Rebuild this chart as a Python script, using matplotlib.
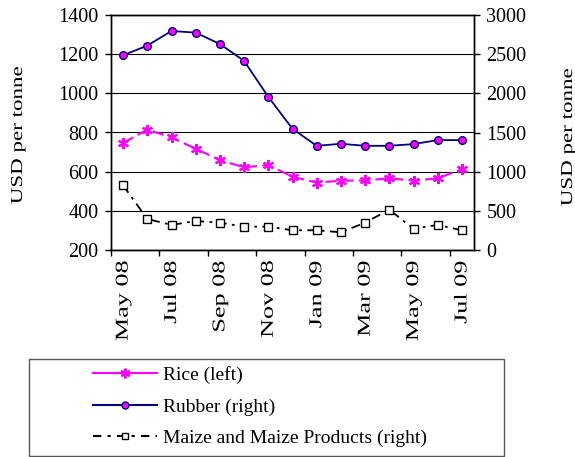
import matplotlib
matplotlib.use("Agg")
import matplotlib.pyplot as plt
from matplotlib.lines import Line2D
from matplotlib.patches import Rectangle
from matplotlib.patheffects import AbstractPathEffect
from matplotlib.transforms import Affine2D

months = ["May 08", "Jun 08", "Jul 08", "Aug 08", "Sep 08", "Oct 08", "Nov 08", "Dec 08",
          "Jan 09", "Feb 09", "Mar 09", "Apr 09", "May 09", "Jun 09", "Jul 09"]
rice = [747, 815, 775, 717, 659, 622, 634, 574, 544, 554, 555, 566, 554, 566, 613]
rubber = [2486, 2609, 2796, 2775, 2630, 2414, 1955, 1547, 1330, 1356, 1330, 1330, 1352, 1403, 1403]
maize = [825, 396, 320, 370, 349, 298, 298, 252, 252, 226, 349, 514, 272, 320, 252]


class Stretch(AbstractPathEffect):
    """Stretch text along its own direction (the reference's rotated text is elongated)."""

    def __init__(self, s, anchor="center"):
        super().__init__()
        self.s = s
        self.anchor = anchor

    def draw_path(self, renderer, gc, tpath, affine, rgbFace=None):
        ext = tpath.get_extents()
        if self.anchor == "end":
            cx = ext.x1
        elif self.anchor == "start":
            cx = ext.x0
        else:
            cx = 0.5 * (ext.x0 + ext.x1)
        t = Affine2D().translate(-cx, 0).scale(self.s, 1).translate(cx, 0) + affine
        renderer.draw_path(gc, tpath, t, rgbFace)


plt.rcParams['font.family'] = ['Liberation Serif', 'DejaVu Serif']
FS_TICK = 14.5
FS_LEG = 14

fig = plt.figure(figsize=(5.75, 4.57), dpi=100)
W, H = 575, 457
ax = fig.add_axes([111 / W, 1 - 250 / H, (474 - 111) / W, (250 - 15) / H])
ax2 = ax.twinx()

x = list(range(len(months)))

ax.set_xlim(-0.5, len(months) - 0.5)
ax.set_ylim(200, 1400)
ax.set_yticks(range(200, 1401, 200))
ax2.set_ylim(0, 3000)
ax2.set_yticks(range(0, 3001, 500))

ax.grid(axis='y', color='black', linewidth=0.8)
ax.set_axisbelow(True)

ax.plot(x, rice, color='#FF00FF', linewidth=1.5, dashes=(5.5, 2.5),
        marker=(6, 2, 0), markersize=8, markeredgewidth=1.5, zorder=3)
ax2.plot(x, rubber, color='#000080', linewidth=1.3, marker='o', markersize=5.5,
         markerfacecolor='#FF00FF', markeredgecolor='#000080', markeredgewidth=1.0, zorder=3)
ax2.plot(x, maize, color='black', linewidth=1.3, dashes=(5, 3, 1.5, 3), marker='s',
         markersize=5.5, markerfacecolor='white', markeredgecolor='black',
         markeredgewidth=1.0, zorder=3)

ax.set_xticks([i - 0.5 for i in range(0, len(months), 2)], minor=False)
ax.set_xticklabels([])
ax.set_xticks(x[::2], minor=True)
xl = ax.set_xticklabels(months[::2], minor=True, rotation=90, fontsize=13)
for t in xl:
    t.set_path_effects([Stretch(1.45, "end")])
ax.tick_params(axis='x', which='major', direction='out', length=4, width=1)
ax.tick_params(axis='x', which='minor', length=0, pad=8)
ax.tick_params(axis='y', direction='out', length=4, width=1, labelsize=FS_TICK, pad=5)
ax2.tick_params(axis='y', direction='out', length=4, width=1, labelsize=FS_TICK, pad=5)

for a in (ax, ax2):
    for s in a.spines.values():
        s.set_linewidth(1.0)
        s.set_color('black')

yl1 = ax.set_ylabel("USD per tonne", fontsize=12)
yl2 = ax2.set_ylabel("USD per tonne", fontsize=12)
ax.yaxis.set_label_coords((26 - 111) / 363, (250 - 135.5) / 235)
ax2.yaxis.set_label_coords((560 - 111) / 363, (250 - 137.5) / 235)
yl1.set_path_effects([Stretch(1.38)])
yl2.set_path_effects([Stretch(1.38)])

fig.patches.append(Rectangle((29 / W, 1 - 456 / H), (504 - 29) / W, (456 - 359) / H,
                             transform=fig.transFigure, fill=False,
                             edgecolor='#555555', linewidth=1.0))

handles = [
    Line2D([], [], color='#FF00FF', linewidth=1.5, marker=(6, 2, 0), markersize=7,
           markeredgewidth=1.5),
    Line2D([], [], color='#000080', linewidth=1.5, marker='o', markersize=5,
           markerfacecolor='#FF00FF', markeredgecolor='#000080'),
    Line2D([], [], color='black', linewidth=1.5, dashes=(4, 3, 1.5, 3), marker='s',
           markersize=5, markerfacecolor='white', markeredgecolor='black'),
]
labels = ["Rice (left)", "Rubber (right)", "Maize and Maize Products (right)"]
fig.legend(handles, labels, loc='upper left', bbox_to_anchor=(93 / W, 1 - 366 / H),
           frameon=False, fontsize=FS_LEG, handlelength=3.3, handletextpad=0.3,
           labelspacing=0.72, borderpad=0, borderaxespad=0)

fig.savefig("out.png", dpi=100)
